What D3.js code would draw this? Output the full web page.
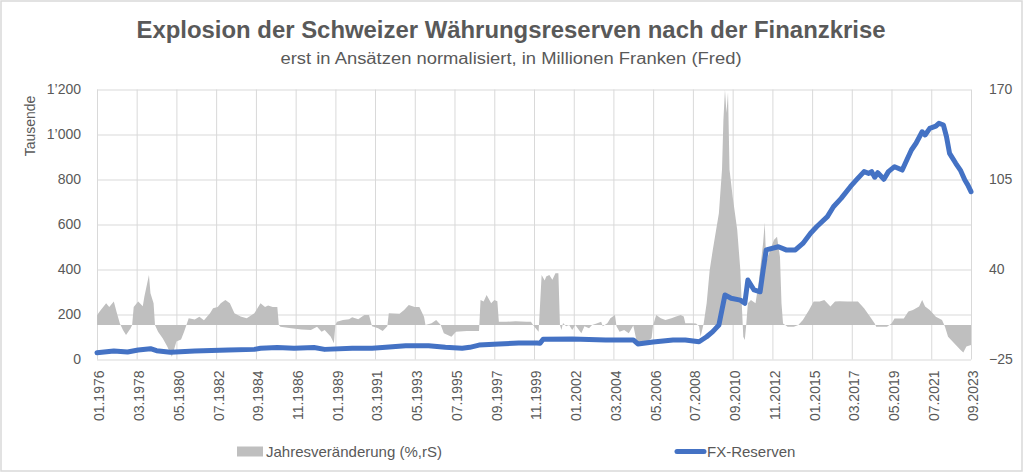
<!DOCTYPE html>
<html>
<head>
<meta charset="utf-8">
<script src="https://cdn.jsdelivr.net/npm/d3@7"></script>
<style>
  html, body { margin: 0; padding: 0; background: #fff; }
  svg { display: block; }
  text { font-family: "Liberation Sans", Arial, sans-serif; fill: #595959; }
</style>
</head>
<body>
<svg id="chart" width="1024" height="473"></svg>
<script>
// ---------- DATA ----------
const titleText = "Explosion der Schweizer Währungsreserven nach der Finanzkrise";
const subtitleText = "erst in Ansätzen normalisiert, in Millionen Franken (Fred)";
const leftAxisTitle = "Tausende";
const seriesNames = ["Jahresveränderung (%,rS)", "FX-Reserven"];

const xTickLabels = ["01.1976","03.1978","05.1980","07.1982","09.1984","11.1986","01.1989","03.1991",
  "05.1993","07.1995","09.1997","11.1999","01.2002","03.2004","05.2006","07.2008","09.2010",
  "11.2012","01.2015","03.2017","05.2019","07.2021","09.2023"];
const leftTicks = [0, 200, 400, 600, 800, 1000, 1200];
const rightTicks = [-25, 40, 105, 170];

// FX reserves (thousands of millions CHF), left axis
const fxDates = ["1976-01","1976-12","1977-09","1978-04","1978-12","1979-04","1980-01","1981-05","1983-03","1984-08",
  "1984-12","1985-11","1986-10","1987-11","1988-06","1989-12","1991-01","1991-10","1992-11","1994-02",
  "1995-01","1995-12","1996-05","1996-11","1997-12","1999-01","2000-01","2000-03","2000-05","2001-12",
  "2003-10","2005-04","2005-07","2006-05","2007-06","2008-02","2008-11","2009-04","2009-08","2009-12",
  "2010-04","2010-08","2011-02","2011-05","2011-07","2011-11","2012-03","2012-05","2012-07","2013-03",
  "2013-08","2014-02","2014-07","2014-12","2015-04","2015-11","2016-03","2016-08","2017-02","2017-06",
  "2017-11","2018-02","2018-04","2018-06","2018-08","2018-12","2019-03","2019-07","2019-12","2020-03",
  "2020-06","2020-09","2021-01","2021-03","2021-06","2021-10","2021-12","2022-03","2022-05","2022-07",
  "2022-11","2023-02","2023-05","2023-07","2023-09"];
const fxValues = [30,38,33,42,48,39,32,38,42,45,
  50,53,50,53,45,50,50,54,61,61,
  54,50,54,64,69,73,73,72,90,91,
  87,87,69,78,87,87,79,101,124,153,
  287,272,264,250,353,309,301,398,487,501,
  487,487,516,561,590,635,679,716,768,798,
  835,827,835,810,830,801,835,857,842,887,
  931,961,1012,998,1027,1037,1050,1042,990,916,
  872,842,798,775,746];

// Annual change (%), right axis
const changeDates = ["1976-01","1976-03","1976-07","1976-09","1976-12","1977-02","1977-04","1977-06","1977-08","1977-11",
  "1977-12","1978-01","1978-04","1978-07","1978-08","1978-11","1978-12","1979-02","1979-03","1979-05",
  "1979-08","1979-11","1980-02","1980-05","1980-08","1980-10","1981-01","1981-05","1981-08","1981-11",
  "1982-03","1982-05","1982-08","1982-10","1983-01","1983-04","1983-07","1983-11","1984-03","1984-06",
  "1984-08","1984-12","1985-03","1985-05","1985-08","1985-11","1985-12","1986-01","1986-08","1987-03",
  "1987-09","1988-01","1988-04","1988-06","1988-10","1988-12","1989-01","1989-02","1989-06","1989-10",
  "1989-12","1990-04","1990-08","1990-11","1991-01","1991-05","1991-08","1991-11","1991-12","1992-07",
  "1992-10","1993-01","1993-05","1993-08","1993-11","1993-12","1994-04","1994-07","1994-10","1994-12",
  "1995-05","1995-08","1996-03","1996-11","1996-12","1997-02","1997-04","1997-07","1997-09","1997-11",
  "1997-12","1998-05","1998-11","1999-06","1999-09","1999-11","2000-02","2000-04","2000-06","2000-07",
  "2000-09","2000-11","2001-01","2001-03","2001-04","2001-05","2001-06","2001-08","2001-10","2001-12",
  "2002-02","2002-06","2002-08","2002-11","2003-01","2003-04","2003-07","2003-08","2003-11","2004-01",
  "2004-04","2004-05","2004-07","2004-10","2005-01","2005-04","2005-06","2005-09","2006-01","2006-04",
  "2006-05","2006-07","2006-10","2007-01","2007-05","2007-08","2007-11","2008-01","2008-02","2008-06",
  "2008-09","2008-11","2008-12","2009-02","2009-04","2009-06","2009-08","2009-12","2010-02","2010-03",
  "2010-04","2010-05","2010-06","2010-07","2010-09","2010-12","2011-02","2011-03","2011-04","2011-05",
  "2011-06","2011-07","2011-09","2011-12","2012-02","2012-05","2012-06","2012-07","2012-08","2012-12",
  "2013-02","2013-04","2013-05","2013-06","2013-09","2014-01","2014-04","2014-07","2014-11","2015-02",
  "2015-06","2015-09","2016-01","2016-04","2016-07","2016-12","2017-04","2017-07","2017-11","2018-03",
  "2018-06","2018-07","2019-02","2019-05","2019-07","2020-01","2020-04","2020-07","2020-11","2021-01",
  "2021-03","2021-06","2021-10","2022-02","2022-04","2022-06","2022-10","2023-02","2023-04","2023-06",
  "2023-09"];
const changeValues = [7,10,15.6,13,16.8,8.4,1,-3.7,-7.3,-2.5,
  0,13,16.8,13.5,20.4,36,22.8,15.6,0,-4.9,
  -9.7,-15.7,-23,-12,-10.5,-4.9,4.8,3.8,5.9,3.4,
  8.4,12,13,15.6,18,15.6,8.4,6,4.8,7,
  8.4,15.6,13,14,13,13,0,-1.3,-2.5,-3.3,
  -3.7,-1.3,-4.9,-3.7,-8.5,-13.3,0,2.3,3.6,4,
  5.5,4,7.1,7.1,-1,-2.5,-4.4,-1,8.4,8,
  10.8,14.4,13,13,5.9,0,1.2,3.6,0,-6,
  -8.5,-4.9,-4.4,-4.4,18,16.8,21.6,15.6,18,17,
  2.3,2.3,2.6,2.3,2.3,-1,-4.9,36,32,35,
  36,32.6,37.3,37.3,0,-3.7,1.4,-1,0,-3.7,
  0,-6,-1,-2.5,0,1,2.3,-1,1.2,4.8,
  7.1,-1,-4.9,-3.7,-6,-0.5,-10.9,-13.3,-12,-9.7,
  0,7.1,4.8,3.6,4.8,6,7.1,6,1.2,1.2,
  1,-1,-8.5,1,15.6,39.7,54,80.7,112,148,
  170,153,168,112,92.7,68.7,39.7,15.6,-8.5,-10.9,
  1,15.6,18,15.6,30.6,59.5,73.9,44.5,49.3,61.3,
  63.7,49,15.6,1,-1.3,-1.3,0,3.5,10.8,16.8,
  16.8,18,13.2,16.8,17,16.8,16.8,16.8,12,5.9,
  1,-1.3,-1.3,1,4.7,4.7,9.6,10.8,13.2,18,
  13.2,10.8,5.9,3.5,-1.3,-8.5,-13.3,-18,-20,-15.7,
  -14.5];

// ---------- CHART ----------
const parseYM = d3.timeParse("%Y-%m");
const parseMY = d3.timeParse("%m.%Y");
const fx = fxDates.map((d, i) => ({ date: parseYM(d), value: fxValues[i] }));
const chg = changeDates.map((d, i) => ({ date: parseYM(d), value: changeValues[i] }));
const tickDates = xTickLabels.map(parseMY);

const plot = { left: 97, right: 971, top: 89.5, bottom: 359.5 };
const svg = d3.select("#chart");

// chart border
svg.append("rect").attr("x", 1).attr("y", 1).attr("width", 1021).attr("height", 470)
  .attr("fill", "#fff").attr("stroke", "#d9d9d9").attr("stroke-width", 1.5);

const x = d3.scaleTime().domain([tickDates[0], tickDates[tickDates.length - 1]]).range([plot.left, plot.right]);
const yL = d3.scaleLinear().domain([0, 1200]).range([plot.bottom, plot.top]);
const yR = d3.scaleLinear().domain([-25, 170]).range([plot.bottom, plot.top]);

// gridlines
svg.append("g").attr("transform", `translate(${plot.left},0)`)
  .call(d3.axisLeft(yL).tickValues(leftTicks).tickSize(-(plot.right - plot.left)).tickFormat(""))
  .call(g => g.select(".domain").remove())
  .call(g => g.selectAll("line").attr("stroke", "#d9d9d9").attr("stroke-width", 1));
svg.append("g").attr("transform", `translate(0,${plot.bottom})`)
  .call(d3.axisBottom(x).tickValues(tickDates).tickSize(-(plot.bottom - plot.top)).tickFormat(""))
  .call(g => g.select(".domain").remove())
  .call(g => g.selectAll("line").attr("stroke", "#d9d9d9").attr("stroke-width", 1));

// clip
svg.append("clipPath").attr("id", "clip").append("rect")
  .attr("x", plot.left).attr("y", plot.top).attr("width", plot.right - plot.left).attr("height", plot.bottom - plot.top);

// area
const area = d3.area().x(d => x(d.date)).y0(yR(0)).y1(d => yR(d.value));
svg.append("path").datum(chg).attr("clip-path", "url(#clip)")
  .attr("d", area).attr("fill", "#bfbfbf");

// line
const line = d3.line().x(d => x(d.date)).y(d => yL(d.value));
svg.append("path").datum(fx).attr("d", line)
  .attr("fill", "none").attr("stroke", "#4472c4").attr("stroke-width", 5)
  .attr("stroke-linejoin", "round").attr("stroke-linecap", "round");

// axes labels
const fmtL = d => d3.format(",")(d).replace(",", "\u2019");
svg.append("g").attr("transform", `translate(${plot.left},0)`)
  .call(d3.axisLeft(yL).tickValues(leftTicks).tickSize(0).tickPadding(16).tickFormat(fmtL))
  .call(g => g.select(".domain").remove())
  .call(g => g.selectAll("text").attr("font-size", 14).attr("font-family", null).attr("fill", "#595959"));

svg.append("g").attr("transform", `translate(${plot.right},0)`)
  .call(d3.axisRight(yR).tickValues(rightTicks).tickSize(0).tickPadding(18))
  .call(g => g.select(".domain").remove())
  .call(g => g.selectAll("text").attr("font-size", 14).attr("font-family", null).attr("fill", "#595959"));

svg.append("g").attr("transform", `translate(0,${plot.bottom})`)
  .call(d3.axisBottom(x).tickValues(tickDates).tickSize(0).tickFormat(d3.timeFormat("%m.%Y")))
  .call(g => g.select(".domain").remove())
  .call(g => g.selectAll("text")
    .attr("font-size", 14).attr("font-family", null).attr("fill", "#595959")
    .attr("transform", "rotate(-90)").attr("text-anchor", "end")
    .attr("x", -11).attr("y", 2).attr("dy", "0.35em"));

// left axis title
svg.append("text").attr("transform", "translate(35,126) rotate(-90)")
  .attr("text-anchor", "middle").attr("font-size", 14).text(leftAxisTitle);

// titles
svg.append("text").attr("x", 511).attr("y", 37.5).attr("text-anchor", "middle")
  .attr("font-size", 23).attr("font-weight", "bold")
  .attr("textLength", 749).attr("lengthAdjust", "spacingAndGlyphs").text(titleText);
svg.append("text").attr("x", 511).attr("y", 64).attr("text-anchor", "middle")
  .attr("font-size", 16)
  .attr("textLength", 461).attr("lengthAdjust", "spacingAndGlyphs").text(subtitleText);

// legend
svg.append("rect").attr("x", 237).attr("y", 446.5).attr("width", 26).attr("height", 10).attr("fill", "#bfbfbf");
svg.append("text").attr("x", 266).attr("y", 456.5).attr("font-size", 15).text(seriesNames[0]);
svg.append("line").attr("x1", 677).attr("x2", 704).attr("y1", 451.5).attr("y2", 451.5)
  .attr("stroke", "#4472c4").attr("stroke-width", 5).attr("stroke-linecap", "round");
svg.append("text").attr("x", 707).attr("y", 456.5).attr("font-size", 15).text(seriesNames[1]);
</script>
</body>
</html>
